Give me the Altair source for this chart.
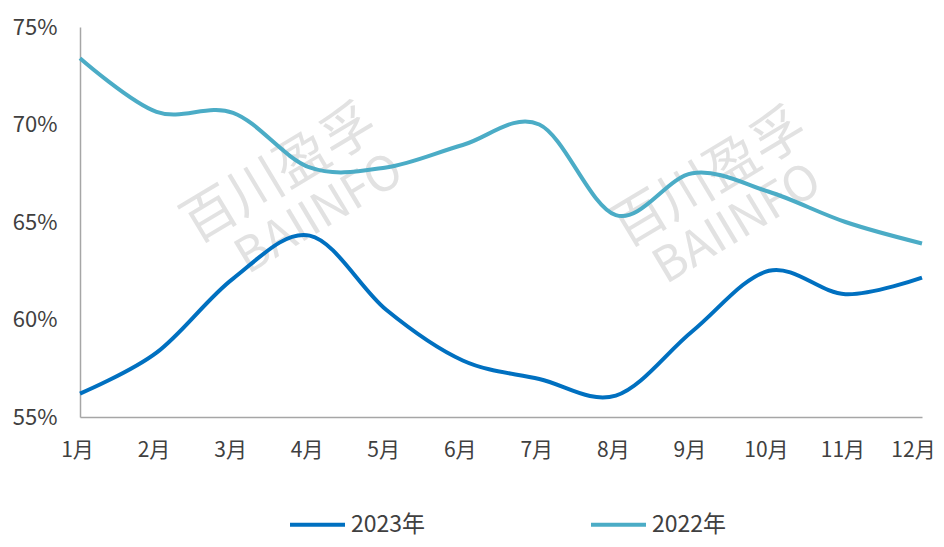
import altair as alt
import pandas as pd

months = ["1月", "2月", "3月", "4月", "5月", "6月", "7月", "8月", "9月", "10月", "11月", "12月"]
series_names = ["2023年", "2022年"]
values_2023 = [56.2, 58.3, 62.1, 64.3, 60.5, 57.9, 56.95, 56.1, 59.4, 62.5, 61.3, 62.15]
values_2022 = [73.4, 70.65, 70.6, 67.8, 67.8, 68.95, 70.0, 65.35, 67.5, 66.55, 65.0, 63.9]
y_ticks = [55, 60, 65, 70, 75]
colors = ["#0070C0", "#4BACC6"]
watermark_cn = "百川盈孚"
watermark_en = "BAIINFO"

df = pd.DataFrame({
    "month": months * 2,
    "value": values_2023 + values_2022,
    "series": [series_names[0]] * 12 + [series_names[1]] * 12,
})

FONT = "Noto Sans CJK SC"
WM_COLOR = "#e2e2e2"

def wm(text, x, y, size):
    return alt.Chart(pd.DataFrame({"t": [text]})).mark_text(
        angle=329, fontSize=size, color=WM_COLOR, font=FONT, align="center", baseline="middle"
    ).encode(x=alt.value(x), y=alt.value(y), text="t:N")

lines = alt.Chart(df).mark_line(strokeWidth=4, interpolate="cardinal").encode(
    x=alt.X("month:N", sort=months, scale=alt.Scale(type="point", padding=0),
            axis=alt.Axis(title=None, labelAngle=0, ticks=False, tickSize=0, labelPadding=22,
                          labelOffset={"condition": {"test": "datum.value == '12月'", "value": -9},
                                       "value": -3},
                          domainColor="#A6A6A6", domainWidth=1.5, labelFontSize=21,
                          labelColor="#404040", labelFont=FONT, grid=False)),
    y=alt.Y("value:Q", scale=alt.Scale(domain=[55, 75], nice=False, zero=False),
            axis=alt.Axis(title=None, values=y_ticks, labelExpr="datum.value + '%'",
                          ticks=False, tickSize=0, labelPadding=23, grid=False,
                          domainColor="#A6A6A6", domainWidth=1.5, labelFontSize=22,
                          labelColor="#404040", labelFont=FONT)),
    color=alt.Color("series:N", sort=series_names,
                    scale=alt.Scale(domain=series_names, range=colors),
                    legend=alt.Legend(title=None, orient="none", legendX=208, legendY=468,
                                      direction="horizontal", symbolType="stroke",
                                      symbolSize=3025, symbolStrokeWidth=4,
                                      labelFontSize=23, labelFont=FONT, labelColor="#404040",
                                      labelOffset=4, columnPadding=157, padding=0)),
)

chart = alt.layer(
    wm(watermark_cn, 200, 148, 54),
    wm(watermark_en, 240, 188, 48),
    wm(watermark_cn, 630, 152, 54),
    wm(watermark_en, 658, 198, 48),
    lines,
).properties(
    width=842, height=390,
    autosize=alt.AutoSizeParams(type="none"),
    padding={"left": 72, "top": 19, "right": 14, "bottom": 122},
).configure(background="white").configure_view(stroke=None)

chart.save("out.html", embed_options={"renderer": "svg", "actions": False})
